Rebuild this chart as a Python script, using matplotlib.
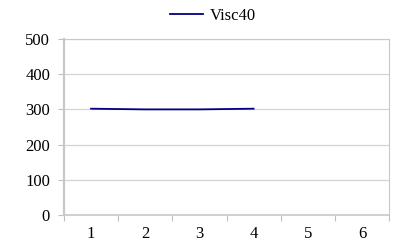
import matplotlib.pyplot as plt

# Datos
categorias = [1, 2, 3, 4, 5, 6]
visc40 = [302, 300, 300, 302]

plt.rcParams['font.family'] = ['Liberation Serif', 'DejaVu Serif']

fig = plt.figure(figsize=(3.94, 2.5), dpi=100)
ax = fig.add_axes([0.1624, 0.14, 0.825, 0.704])

x = list(range(len(visc40)))
ax.plot(x, visc40, color='#000080', linewidth=1.3, label='Visc40', zorder=3)

ax.set_xlim(-0.5, len(categorias) - 0.5)
ax.set_ylim(0, 500)
ax.set_yticks(range(0, 501, 100))
ax.set_xticks([i - 0.5 for i in range(len(categorias) + 1)], minor=False)
ax.set_xticklabels([])
ax.set_xticks(range(len(categorias)), minor=True)
ax.set_xticklabels([str(c) for c in categorias], minor=True)
ax.tick_params(axis='x', which='minor', length=0, pad=8, labelsize=12)
ax.tick_params(axis='x', which='major', length=4, color='#c0c0c0')
ax.tick_params(axis='y', length=4, color='#c0c0c0', labelsize=12, pad=6)

ax.grid(axis='y', color='#d4d4d4', linewidth=0.9)
ax.set_axisbelow(True)
for s in ax.spines.values():
    s.set_color('#c8c8c8')
ax.spines['left'].set_linewidth(1.6)
ax.spines['bottom'].set_linewidth(1.2)

fig.legend(loc='upper center', bbox_to_anchor=(0.54, 1.03), frameon=False,
           fontsize=12, handlelength=2.0, handletextpad=0.4)

plt.savefig('out.png', dpi=100)
